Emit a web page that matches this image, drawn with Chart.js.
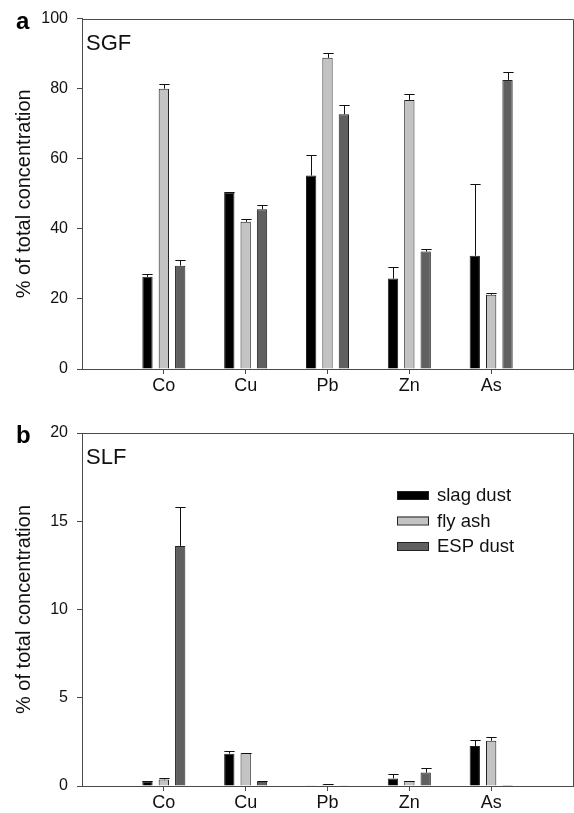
<!DOCTYPE html>
<html>
<head>
<meta charset="utf-8">
<script src="https://cdn.jsdelivr.net/npm/chart.js@4.4.0/dist/chart.umd.min.js"></script>
<style>
  html, body { margin: 0; padding: 0; background: #fff; }
  #wrap { position: relative; width: 574px; height: 813px; overflow: hidden; }
  .panel { position: absolute; left: 0; width: 574px; }
</style>
</head>
<body>
<div id="wrap">
  <div class="panel" style="top:0;height:400px"><canvas id="chartA" width="574" height="400"></canvas></div>
  <div class="panel" style="top:400px;height:413px"><canvas id="chartB" width="574" height="413"></canvas></div>
</div>
<script>
// ---------- data ----------
const elements = ['Co', 'Cu', 'Pb', 'Zn', 'As'];
const seriesNames = ['slag dust', 'fly ash', 'ESP dust'];

// Panel a: SGF
const sgfSlag = [26.3, 50.3, 55.2, 25.8, 32.3];
const sgfSlagErr = [0.7, 0.3, 5.8, 3.4, 20.4];
const sgfFly = [80.0, 42.0, 88.8, 76.8, 21.2];
const sgfFlyErr = [1.3, 0.8, 1.4, 1.6, 0.6];
const sgfEsp = [29.5, 45.6, 72.7, 33.5, 82.5];
const sgfEspErr = [1.6, 1.1, 2.6, 0.8, 2.3];

// Panel b: SLF
const slfSlag = [0.24, 1.83, 0.02, 0.43, 2.26];
const slfSlagErr = [0.02, 0.16, 0.0, 0.23, 0.32];
const slfFly = [0.37, 1.85, 0.10, 0.28, 2.56];
const slfFlyErr = [0.06, 0.03, 0.01, 0.03, 0.24];
const slfEsp = [13.6, 0.24, 0.02, 0.76, 0.05];
const slfEspErr = [2.2, 0.02, 0.0, 0.26, 0.0];

const yTicksA = [0, 20, 40, 60, 80, 100];
const yTicksB = [0, 5, 10, 15, 20];

// ---------- styles ----------
const FONT = '"Liberation Sans", Arial, Helvetica, sans-serif';
const fills = ['#000000', '#c3c3c3', '#606060'];
const AXIS = '#4a4a4a';

// padded categories: an empty slot at each end
const cats = [''].concat(elements, ['']);
const pad = arr => [null].concat(arr, [null]);

function makeDatasets(vals, errs) {
  return vals.map((v, i) => ({
    label: seriesNames[i],
    data: pad(v),
    errors: pad(errs[i]),
    backgroundColor: fills[i],
    borderColor: '#222',
    borderWidth: 1,
    borderSkipped: 'bottom',
    categoryPercentage: 0.6,
    barPercentage: 0.63
  }));
}

const errorBars = {
  id: 'errorBars',
  afterDatasetsDraw(chart) {
    const ctx = chart.ctx;
    const y = chart.scales.y;
    ctx.save();
    ctx.strokeStyle = '#111';
    ctx.lineWidth = 1;
    chart.data.datasets.forEach((ds, i) => {
      const meta = chart.getDatasetMeta(i);
      meta.data.forEach((el, j) => {
        const v = ds.data[j], e = ds.errors[j];
        if (v == null || !e) return;
        const top = Math.round(y.getPixelForValue(v + e)) + 0.5;
        const base = el.y;
        const x = Math.round(el.x) + 0.5;
        const hw = el.width / 2;
        ctx.beginPath();
        ctx.moveTo(x, base);
        ctx.lineTo(x, top);
        ctx.moveTo(x - hw, top);
        ctx.lineTo(x + hw, top);
        ctx.stroke();
      });
    });
    ctx.restore();
  }
};

const frame = {
  id: 'frame',
  afterDraw(chart) {
    const a = chart.chartArea, ctx = chart.ctx;
    ctx.save();
    ctx.strokeStyle = AXIS;
    ctx.lineWidth = 1;
    ctx.beginPath();
    ctx.moveTo(a.left, Math.round(a.top) + 0.5);
    ctx.lineTo(Math.round(a.right) + 0.5, Math.round(a.top) + 0.5);
    ctx.lineTo(Math.round(a.right) + 0.5, a.bottom);
    ctx.stroke();
    // panel letter and fraction name
    const o = chart.options.plugins.frame;
    ctx.fillStyle = '#000';
    ctx.textBaseline = 'alphabetic';
    ctx.textAlign = 'left';
    ctx.font = 'bold 24px ' + FONT;
    ctx.fillText(o.letter, 16, a.top + 10);
    ctx.font = '22px ' + FONT;
    ctx.fillStyle = '#111';
    ctx.fillText(o.name, a.left + 4, a.top + 31);
    ctx.restore();
  }
};

const insideLegend = {
  id: 'insideLegend',
  afterDraw(chart) {
    const o = chart.options.plugins.insideLegend;
    if (!o || !o.show) return;
    const ctx = chart.ctx;
    ctx.save();
    ctx.font = '18.5px ' + FONT;
    ctx.textBaseline = 'middle';
    ctx.textAlign = 'left';
    chart.data.datasets.forEach((ds, i) => {
      const cy = o.y + i * o.dy;
      ctx.fillStyle = ds.backgroundColor;
      ctx.fillRect(o.x, cy - 4, 32, 8);
      ctx.strokeStyle = '#222';
      ctx.lineWidth = 1;
      ctx.strokeRect(o.x + 0.5, cy - 3.5, 31, 8);
      ctx.fillStyle = '#111';
      ctx.fillText(ds.label, o.x + 40, cy + 1);
    });
    ctx.restore();
  }
};

function makeChart(id, vals, errs, yMax, step, yticks, padTop, xH, letter, name, legendOpts) {
  return new Chart(document.getElementById(id), {
    type: 'bar',
    data: { labels: cats, datasets: makeDatasets(vals, errs) },
    plugins: [errorBars, frame, insideLegend],
    options: {
      responsive: false,
      animation: false,
      devicePixelRatio: 1,
      layout: { padding: { top: padTop, right: 1, left: 0, bottom: 0 } },
      plugins: {
        legend: { display: false },
        tooltip: { enabled: false },
        frame: { letter: letter, name: name },
        insideLegend: legendOpts
      },
      scales: {
        x: {
          offset: false,
          afterFit(s) { s.height = xH; },
          border: { display: true, color: AXIS, width: 1 },
          grid: {
            offset: false,
            drawOnChartArea: false,
            tickLength: 5,
            color: c => (c.tick && c.tick.label ? AXIS : 'rgba(0,0,0,0)')
          },
          ticks: {
            autoSkip: false,
            maxRotation: 0,
            padding: 1,
            color: '#111',
            font: { family: FONT, size: 18 }
          }
        },
        y: {
          min: 0,
          max: yMax,
          afterFit(s) { s.width = 82; },
          afterBuildTicks(s) { s.ticks = yticks.map(v => ({ value: v })); },
          border: { display: true, color: AXIS, width: 1 },
          grid: { drawOnChartArea: false, tickLength: 5, color: AXIS },
          ticks: {
            stepSize: step,
            padding: 9,
            color: '#111',
            font: { family: FONT, size: 16 }
          },
          title: {
            display: true,
            text: '% of total concentration',
            color: '#111',
            font: { family: FONT, size: 20 },
            padding: { top: 12, bottom: 0 }
          }
        }
      }
    }
  });
}

makeChart('chartA', [sgfSlag, sgfFly, sgfEsp], [sgfSlagErr, sgfFlyErr, sgfEspErr],
  100, 20, yTicksA, 16, 31, 'a', 'SGF', { show: false });
makeChart('chartB', [slfSlag, slfFly, slfEsp], [slfSlagErr, slfFlyErr, slfEspErr],
  20, 5, yTicksB, 33, 27, 'b', 'SLF', { show: true, x: 397, y: 95, dy: 25.5 });
</script>
</body>
</html>
